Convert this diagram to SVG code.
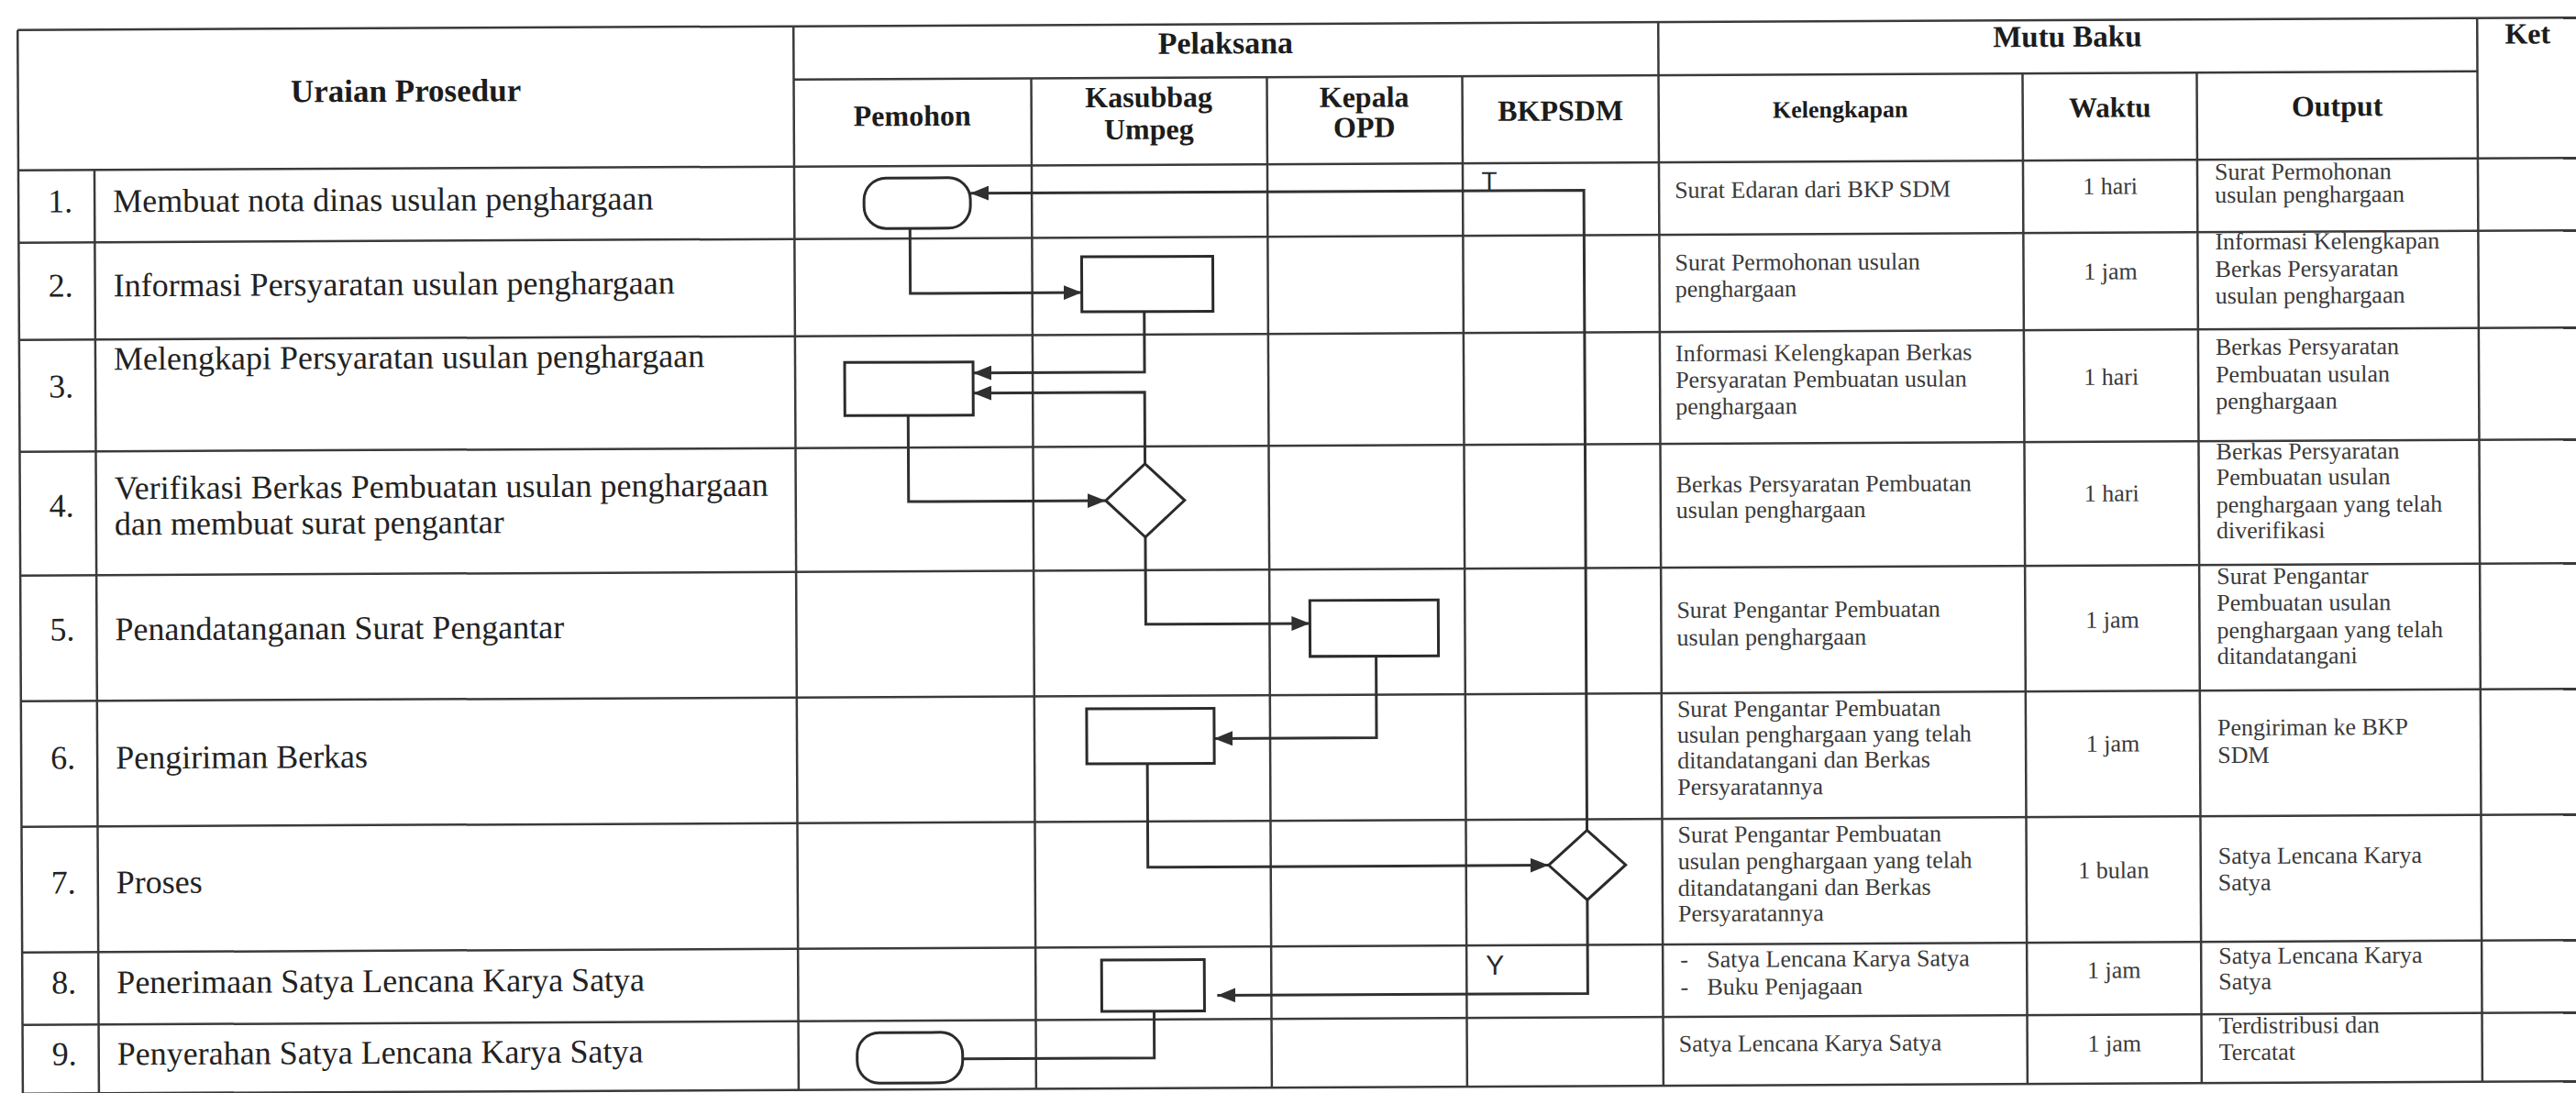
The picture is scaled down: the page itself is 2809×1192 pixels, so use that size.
<svg xmlns="http://www.w3.org/2000/svg" width="2809" height="1192" viewBox="0 0 2809 1192">
<defs>
<style>
.grid line{stroke:#3a3a3a;stroke-width:2.5}
.shape{fill:#fff;stroke:#2b2b2b;stroke-width:3}
.conn path{fill:none;stroke:#303030;stroke-width:3}
.h{font-family:"Liberation Serif","Times New Roman",serif;font-weight:bold;fill:#1c1c1c;text-anchor:middle}
.b{font-family:"Liberation Serif","Times New Roman",serif;font-size:36px;fill:#222}
.m{font-family:"Liberation Serif","Times New Roman",serif;font-size:26px;fill:#3a3a3a}
.w{font-family:"Liberation Serif","Times New Roman",serif;font-size:26px;fill:#3a3a3a;text-anchor:middle}
.lbl{font-family:"Liberation Sans",Arial,sans-serif;fill:#2a2a2a;text-anchor:middle}
</style>
<marker id="arr" viewBox="0 0 20 16" refX="20" refY="8" markerWidth="20" markerHeight="16" markerUnits="userSpaceOnUse" orient="auto">
<path d="M0,0 L20,8 L0,16 z" fill="#303030"/>
</marker>
</defs>
<rect x="0" y="0" width="2809" height="1192" fill="#ffffff"/>
<g transform="rotate(-0.28 1404 596)">
<g id="grid" class="grid">
<line x1="22" y1="26" x2="2820" y2="26"/>
<line x1="868" y1="84" x2="2704" y2="84"/>
<line x1="22" y1="179" x2="2820" y2="179"/>
<line x1="22" y1="258" x2="2820" y2="258"/>
<line x1="22" y1="364" x2="2820" y2="364"/>
<line x1="22" y1="486" x2="2820" y2="486"/>
<line x1="22" y1="621" x2="2820" y2="621"/>
<line x1="22" y1="758" x2="2820" y2="758"/>
<line x1="22" y1="895" x2="2820" y2="895"/>
<line x1="22" y1="1032" x2="2820" y2="1032"/>
<line x1="22" y1="1111" x2="2820" y2="1111"/>
<line x1="22" y1="1186" x2="2820" y2="1186"/>
<line x1="22" y1="26" x2="22" y2="1186"/>
<line x1="105" y1="179" x2="105" y2="1186"/>
<line x1="868" y1="26" x2="868" y2="1186"/>
<line x1="1127" y1="84" x2="1127" y2="1186"/>
<line x1="1384" y1="84" x2="1384" y2="1186"/>
<line x1="1597" y1="84" x2="1597" y2="1186"/>
<line x1="1811" y1="26" x2="1811" y2="1186"/>
<line x1="2208" y1="84" x2="2208" y2="1186"/>
<line x1="2398" y1="84" x2="2398" y2="1186"/>
<line x1="2704" y1="26" x2="2704" y2="1186"/>
</g>
<g id="headers">
<text class="h" x="445" y="106" font-size="35">Uraian Prosedur</text>
<text class="h" x="1339" y="58" font-size="34">Pelaksana</text>
<text class="h" x="2257" y="55" font-size="33">Mutu Baku</text>
<text class="h" x="2759" y="54" font-size="32">Ket</text>
<text class="h" x="997" y="135" font-size="32">Pemohon</text>
<text class="h" x="1255" y="116" font-size="32">Kasubbag</text>
<text class="h" x="1255" y="151" font-size="32">Umpeg</text>
<text class="h" x="1490" y="117" font-size="32">Kepala</text>
<text class="h" x="1490" y="150" font-size="32">OPD</text>
<text class="h" x="1704" y="133" font-size="32">BKPSDM</text>
<text class="h" x="2009" y="131" font-size="26">Kelengkapan</text>
<text class="h" x="2303" y="132" font-size="31">Waktu</text>
<text class="h" x="2551" y="132" font-size="32">Output</text>
</g>
<g id="uraian">
<text class="b" x="54" y="225">1.</text><text class="b" x="125" y="225">Membuat nota dinas usulan penghargaan</text>
<text class="b" x="54" y="317">2.</text><text class="b" x="125" y="317">Informasi Persyaratan usulan penghargaan</text>
<text class="b" x="54" y="427">3.</text><text class="b" x="125" y="397">Melengkapi Persyaratan usulan penghargaan</text>
<text class="b" x="54" y="557">4.</text><text class="b" x="125" y="538">Verifikasi Berkas Pembuatan usulan penghargaan</text>
<text class="b" x="125" y="577">dan membuat surat pengantar</text>
<text class="b" x="54" y="692">5.</text><text class="b" x="125" y="692">Penandatanganan Surat Pengantar</text>
<text class="b" x="54" y="832">6.</text><text class="b" x="125" y="832">Pengiriman Berkas</text>
<text class="b" x="54" y="968">7.</text><text class="b" x="125" y="968">Proses</text>
<text class="b" x="54" y="1077">8.</text><text class="b" x="125" y="1077">Penerimaan Satya Lencana Karya Satya</text>
<text class="b" x="54" y="1155">9.</text><text class="b" x="125" y="1155">Penyerahan Satya Lencana Karya Satya</text>
</g>
<g id="kelengkapan">
<text class="m" x="1828" y="218">Surat Edaran dari BKP SDM</text>
<text class="m" x="1828" y="297">Surat Permohonan usulan</text>
<text class="m" x="1828" y="326">penghargaan</text>
<text class="m" x="1828" y="396">Informasi Kelengkapan Berkas</text>
<text class="m" x="1828" y="425">Persyaratan Pembuatan usulan</text>
<text class="m" x="1828" y="454">penghargaan</text>
<text class="m" x="1828" y="539">Berkas Persyaratan Pembuatan</text>
<text class="m" x="1828" y="567">usulan penghargaan</text>
<text class="m" x="1828" y="676">Surat Pengantar Pembuatan</text>
<text class="m" x="1828" y="706">usulan penghargaan</text>
<text class="m" x="1828" y="784">Surat Pengantar Pembuatan</text>
<text class="m" x="1828" y="812">usulan penghargaan yang telah</text>
<text class="m" x="1828" y="840">ditandatangani dan Berkas</text>
<text class="m" x="1828" y="869">Persyaratannya</text>
<text class="m" x="1828" y="921">Surat Pengantar Pembuatan</text>
<text class="m" x="1828" y="950">usulan penghargaan yang telah</text>
<text class="m" x="1828" y="979">ditandatangani dan Berkas</text>
<text class="m" x="1828" y="1007">Persyaratannya</text>
<text class="m" x="1830" y="1057">-</text><text class="m" x="1859" y="1057">Satya Lencana Karya Satya</text>
<text class="m" x="1830" y="1087">-</text><text class="m" x="1859" y="1087">Buku Penjagaan</text>
<text class="m" x="1828" y="1149">Satya Lencana Karya Satya</text>
</g>
<g id="waktu">
<text class="w" x="2303" y="216">1 hari</text>
<text class="w" x="2303" y="309">1 jam</text>
<text class="w" x="2303" y="424">1 hari</text>
<text class="w" x="2303" y="551">1 hari</text>
<text class="w" x="2303" y="689">1 jam</text>
<text class="w" x="2303" y="824">1 jam</text>
<text class="w" x="2303" y="962">1 bulan</text>
<text class="w" x="2303" y="1071">1 jam</text>
<text class="w" x="2303" y="1151">1 jam</text>
</g>
<g id="output">
<text class="m" x="2417" y="201">Surat Permohonan</text>
<text class="m" x="2417" y="226">usulan penghargaan</text>
<text class="m" x="2417" y="277">Informasi Kelengkapan</text>
<text class="m" x="2417" y="307">Berkas Persyaratan</text>
<text class="m" x="2417" y="336">usulan penghargaan</text>
<text class="m" x="2417" y="392">Berkas Persyaratan</text>
<text class="m" x="2417" y="422">Pembuatan usulan</text>
<text class="m" x="2417" y="451">penghargaan</text>
<text class="m" x="2417" y="506">Berkas Persyaratan</text>
<text class="m" x="2417" y="534">Pembuatan usulan</text>
<text class="m" x="2417" y="564">penghargaan yang telah</text>
<text class="m" x="2417" y="592">diverifikasi</text>
<text class="m" x="2417" y="642">Surat Pengantar</text>
<text class="m" x="2417" y="671">Pembuatan usulan</text>
<text class="m" x="2417" y="701">penghargaan yang telah</text>
<text class="m" x="2417" y="729">ditandatangani</text>
<text class="m" x="2417" y="807">Pengiriman ke BKP</text>
<text class="m" x="2417" y="837">SDM</text>
<text class="m" x="2417" y="947">Satya Lencana Karya</text>
<text class="m" x="2417" y="976">Satya</text>
<text class="m" x="2417" y="1056">Satya Lencana Karya</text>
<text class="m" x="2417" y="1084">Satya</text>
<text class="m" x="2417" y="1132">Terdistribusi dan</text>
<text class="m" x="2417" y="1161">Tercatat</text>
</g>
<g id="connectors" class="conn">
<path d="M994 247 V318 H1181" marker-end="url(#arr)"/>
<path d="M1249 339 V405 H1062" marker-end="url(#arr)"/>
<path d="M991 451 V545 H1206" marker-end="url(#arr)"/>
<path d="M1249 505 V427 H1062" marker-end="url(#arr)"/>
<path d="M1249 585 V680 H1428" marker-end="url(#arr)"/>
<path d="M1500 716 V805 H1323" marker-end="url(#arr)"/>
<path d="M1250 832 V945 H1687" marker-end="url(#arr)"/>
<path d="M1729 907 V209 H1060" marker-end="url(#arr)"/>
<path d="M1729 983 V1085 H1325" marker-end="url(#arr)"/>
<path d="M1256 1102 V1153 H1047"/>
</g>
<g id="label-T"><text class="lbl" x="1626" y="208" font-size="28">T</text></g>
<g id="label-Y"><text class="lbl" x="1628" y="1064" font-size="30">Y</text></g>
<g id="node-1"><rect class="shape" x="944" y="192" width="116" height="55" rx="24" ry="24"/></g>
<g id="node-2"><rect class="shape" x="1181" y="279" width="143" height="60"/></g>
<g id="node-3"><rect class="shape" x="922" y="393" width="140" height="58"/></g>
<g id="node-4"><polygon class="shape" points="1249,505 1292,545 1249,585 1206,545"/></g>
<g id="node-5"><rect class="shape" x="1428" y="655" width="140" height="61"/></g>
<g id="node-6"><rect class="shape" x="1184" y="772" width="139" height="60"/></g>
<g id="node-7"><polygon class="shape" points="1729,907 1771,945 1729,983 1687,945"/></g>
<g id="node-8"><rect class="shape" x="1199" y="1046" width="112" height="56"/></g>
<g id="node-9"><rect class="shape" x="932" y="1124" width="115" height="55" rx="24" ry="24"/></g>
</g>
</svg>
